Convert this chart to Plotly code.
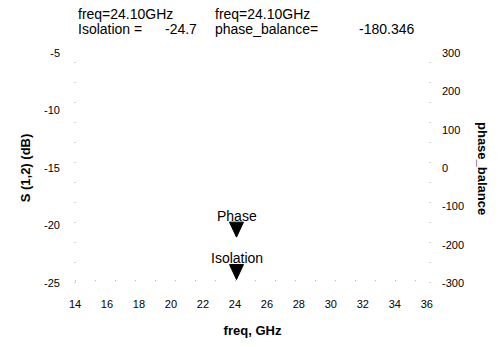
import plotly.graph_objects as go

# Marker data
marker_freq = [24.10]
isolation_db = [-24.7]
phase_balance = [-180.346]
marker_names = ["Isolation", "Phase"]

x_ticks = [14, 16, 18, 20, 22, 24, 26, 28, 30, 32, 34, 36]
y_left_ticks = [-25, -20, -15, -10, -5]
y_right_ticks = [-300, -200, -100, 0, 100, 200, 300]

FONT = "Liberation Sans Narrow, Liberation Sans, Arial, sans-serif"
BOLD = "Liberation Sans, Arial, sans-serif"
BLACK = "#000000"

fig = go.Figure()

# invisible traces to engage both axes
fig.add_trace(go.Scatter(x=marker_freq, y=isolation_db, mode="markers",
                         marker=dict(size=1, opacity=0), showlegend=False, hoverinfo="skip"))
fig.add_trace(go.Scatter(x=marker_freq, y=phase_balance, mode="markers", yaxis="y2",
                         marker=dict(size=1, opacity=0), showlegend=False, hoverinfo="skip"))

tickfont = dict(family=FONT, size=11, color=BLACK)
titlefont = dict(family=BOLD, size=13, color=BLACK, weight="bold")

fig.update_layout(
    width=499, height=347,
    margin=dict(l=75, r=69, t=53, b=62),
    paper_bgcolor="white", plot_bgcolor="white",
    showlegend=False,
    xaxis=dict(range=[14, 36.2], tickvals=x_ticks, ticktext=[str(v) for v in x_ticks],
               showgrid=False, zeroline=False, showline=False, ticks="",
               tickfont=tickfont, ticklabelstandoff=13,
               title=dict(text="freq, GHz", font=titlefont, standoff=16)),
    yaxis=dict(range=[-25, -5], tickvals=y_left_ticks, ticktext=[str(v) for v in y_left_ticks],
               showgrid=False, zeroline=False, showline=False, ticks="",
               tickfont=tickfont, ticklabelstandoff=14,
               title=dict(text="S (1,2) (dB)", font=titlefont, standoff=10)),
    yaxis2=dict(range=[-300, 300], tickvals=y_right_ticks, ticktext=[str(v) for v in y_right_ticks],
                overlaying="y", side="right",
                showgrid=False, zeroline=False, showline=False, ticks="",
                tickfont=tickfont, ticklabelstandoff=11),
)

# sparse dotted frame (faint)
dot = dict(color="#a8a8a8", width=1, dash="1px,19px")
fig.add_shape(type="line", xref="paper", yref="paper", x0=0, x1=0, y0=0, y1=1, line=dot)
fig.add_shape(type="line", xref="paper", yref="paper", x0=1, x1=1, y0=0, y1=1, line=dot)
fig.add_shape(type="line", xref="paper", yref="paper", x0=0, x1=1, y0=0.01, y1=0.01, line=dot)

# marker triangles (tip at the data point)
tri = "M-7,15 L7,15 L0,0 Z"
fig.add_shape(type="path", xref="x", yref="y", xsizemode="pixel", ysizemode="pixel",
              xanchor=marker_freq[0], yanchor=isolation_db[0], path=tri,
              fillcolor=BLACK, line=dict(color=BLACK, width=1))
fig.add_shape(type="path", xref="x", yref="y2", xsizemode="pixel", ysizemode="pixel",
              xanchor=marker_freq[0], yanchor=phase_balance[0], path=tri,
              fillcolor=BLACK, line=dict(color=BLACK, width=1))

lblfont = dict(family=FONT, size=14, color=BLACK)
fig.add_annotation(x=marker_freq[0], y=isolation_db[0], xref="x", yref="y",
                   text=marker_names[0], showarrow=False, yanchor="middle", yshift=22, font=lblfont)
fig.add_annotation(x=marker_freq[0], y=phase_balance[0], xref="x", yref="y2",
                   text=marker_names[1], showarrow=False, yanchor="middle", yshift=21, font=lblfont)

# marker readout text at top
readfont = dict(family=FONT, size=14, color=BLACK)
pw = 499 - 75 - 69
ph = 347 - 53 - 62
def px(xp): return (xp - 75) / pw
def py(yp): return (347 - 62 - yp) / ph

def txt(x, y, s):
    fig.add_annotation(x=px(x), y=py(y), xref="paper", yref="paper", text=s, showarrow=False,
                       xanchor="left", yanchor="middle", font=readfont)

txt(76, 14, f"freq={marker_freq[0]:.2f}GHz")
txt(76, 29, "Isolation =")
txt(163, 29, f"{isolation_db[0]:.1f}")
txt(213, 14, f"freq={marker_freq[0]:.2f}GHz")
txt(213, 29, "phase_balance=")
txt(357, 29, f"{phase_balance[0]:.3f}")

# right axis title, reading top to bottom
fig.add_annotation(x=px(483), y=0.5, xref="paper", yref="paper", text="<b>phase_balance</b>",
                   textangle=90, showarrow=False, xanchor="center", yanchor="middle",
                   font=dict(family=BOLD, size=13, color=BLACK))

fig.write_html("out.html")
